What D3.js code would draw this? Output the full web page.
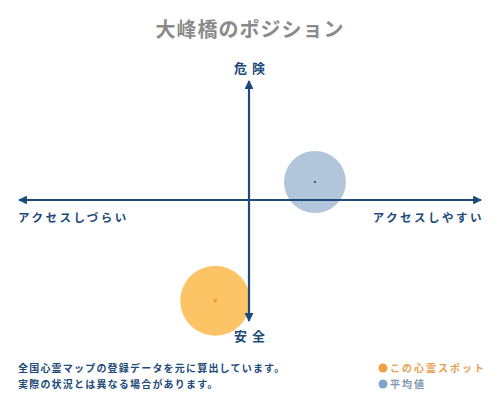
<!DOCTYPE html>
<html>
<head>
<meta charset="utf-8">
<script src="https://cdn.jsdelivr.net/npm/d3@7"></script>
<style>
  body { margin: 0; background: #fff; }
  svg { display: block; font-family: "Noto Sans CJK JP", sans-serif; }
</style>
</head>
<body>
<svg id="chart" width="500" height="400"></svg>
<script>
const title = '大峰橋のポジション';
const axisLabels = ['アクセスしづらい', 'アクセスしやすい', '危険', '安全'];
const seriesNames = ['この心霊スポット', '平均値'];
const accessValues = [-0.75, 1.4]; // x: access (left = hard, right = easy)
const dangerValues = [-4.2, 0.75]; // y: danger (up = dangerous)
const sizeValues = [1.27, 1]; // relative bubble size
const notes = ['全国心霊マップの登録データを元に算出しています。', '実際の状況とは異なる場合があります。'];

const navy = '#1d4a78';
const fills = ['#fdc466', '#a9bfd7'];
const dotColors = ['#f0a030', '#1d3350'];
const legendColors = ['#f0a045', '#7ea6cc'];
const legendText = ['#e8a050', '#7e97b0'];

const svg = d3.select('#chart');

// scales centred on the crossing of the two axes
const xScale = d3.scaleLinear().domain([-5, 5]).range([18, 482]);
const yScale = d3.scaleLinear().domain([-5, 5]).range([320, 80]);
const rScale = d3.scaleSqrt().domain([0, 1]).range([0, 31]);

// title
svg.append('text')
  .attr('x', 250).attr('y', 37)
  .attr('text-anchor', 'middle')
  .attr('font-size', 20).attr('font-weight', 'bold')
  .attr('fill', '#8a8a8a')
  .attr('letter-spacing', 1)
  .text(title);

// arrow marker
const defs = svg.append('defs');
defs.append('marker')
  .attr('id', 'arrow')
  .attr('viewBox', '0 0 10 10')
  .attr('refX', 9).attr('refY', 5)
  .attr('markerWidth', 4).attr('markerHeight', 4)
  .attr('orient', 'auto-start-reverse')
  .append('path')
  .attr('d', 'M0,0 L10,5 L0,10 z')
  .attr('fill', navy);

// bubbles first, axes drawn over them
const pts = accessValues.map((v, i) => ({ x: v, y: dangerValues[i], s: sizeValues[i], i }));

svg.selectAll('circle.bubble')
  .data(pts)
  .enter()
  .append('circle')
  .classed('bubble', true)
  .attr('cx', (d) => xScale(d.x))
  .attr('cy', (d) => yScale(d.y))
  .attr('r', (d) => rScale(d.s))
  .attr('fill', (d) => fills[d.i])
  .attr('fill-opacity', (d) => (d.i === 1 ? 0.9 : 1));

// axes
svg.append('line')
  .attr('x1', xScale(-5) + 1).attr('x2', xScale(5) - 1)
  .attr('y1', yScale(0)).attr('y2', yScale(0))
  .attr('stroke', navy).attr('stroke-width', 2.2)
  .attr('marker-start', 'url(#arrow)')
  .attr('marker-end', 'url(#arrow)');

svg.append('line')
  .attr('x1', xScale(0) - 1).attr('x2', xScale(0) - 1)
  .attr('y1', yScale(5) + 1).attr('y2', yScale(-5) + 1)
  .attr('stroke', navy).attr('stroke-width', 2.2)
  .attr('marker-start', 'url(#arrow)')
  .attr('marker-end', 'url(#arrow)');

// centre dots
svg.selectAll('circle.dot')
  .data(pts)
  .enter()
  .append('circle')
  .classed('dot', true)
  .attr('cx', (d) => xScale(d.x))
  .attr('cy', (d) => yScale(d.y))
  .attr('r', (d) => (d.i === 0 ? 2 : 1))
  .attr('fill', (d) => dotColors[d.i]);

// axis labels
const lab = (x, y, anchor, t) => svg.append('text')
  .attr('x', x).attr('y', y)
  .attr('text-anchor', anchor)
  .attr('font-size', 11.5).attr('font-weight', 'bold')
  .attr('letter-spacing', 2.5)
  .attr('fill', navy)
  .text(t);

lab(18, 222, 'start', axisLabels[0]);
lab(484, 222, 'end', axisLabels[1]);
lab(252, 73, 'middle', axisLabels[2]).attr('font-size', 13).attr('letter-spacing', 5);
lab(252, 341, 'middle', axisLabels[3]).attr('font-size', 13).attr('letter-spacing', 5);

// notes
svg.selectAll('text.note')
  .data(notes)
  .enter()
  .append('text')
  .classed('note', true)
  .attr('x', 18)
  .attr('y', (d, i) => 372 + i * 16)
  .attr('font-size', 10).attr('font-weight', 'bold')
  .attr('letter-spacing', 1.2)
  .attr('fill', navy)
  .text((d) => d);

// legend
const leg = svg.selectAll('g.legend')
  .data(seriesNames)
  .enter()
  .append('g')
  .classed('legend', true)
  .attr('transform', (d, i) => `translate(383 ${368 + i * 16})`);

leg.append('circle')
  .attr('r', 4.5)
  .attr('fill', (d, i) => legendColors[i]);

leg.append('text')
  .attr('x', 7).attr('y', 4)
  .attr('font-size', 10).attr('font-weight', 'bold')
  .attr('letter-spacing', 2)
  .attr('fill', (d, i) => legendText[i])
  .text((d) => d);
</script>
</body>
</html>
